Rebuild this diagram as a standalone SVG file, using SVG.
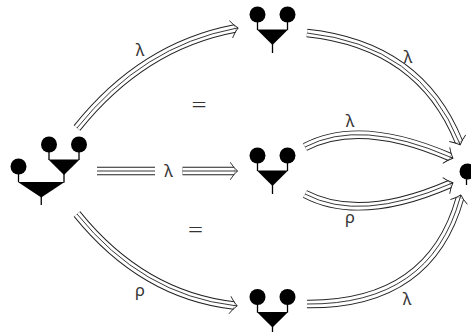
<svg xmlns="http://www.w3.org/2000/svg" width="471" height="332" viewBox="0 0 471 332">
<style>
.n circle{fill:#000}
.n line{stroke:#000;stroke-width:1.3}
.n polygon{fill:#000}
.o{fill:none;stroke:#222;stroke-width:8.5}
.w{fill:none;stroke:#fff;stroke-width:6.7}
.c{fill:none;stroke:#222;stroke-width:0.9}
.h{fill:none;stroke:#222;stroke-width:0.9}
.t{font-family:"Noto Sans","DejaVu Sans",sans-serif;font-size:16.5px;fill:#333;text-anchor:middle}
.eq{font-family:"Liberation Serif",serif;font-size:22px;fill:#333;text-anchor:middle}
</style>
<defs>
<marker id="ah" markerUnits="userSpaceOnUse" orient="auto" refX="0" refY="0" viewBox="-12 -12 24 24" markerWidth="24" markerHeight="24" overflow="visible">
<path class="h" d="M-4.1,-8.8 Q-0.6,-3.2 3.2,0 Q-0.6,3.2 -4.1,8.8 M0,0 L3.2,0"/>
</marker>
</defs>
<rect width="471" height="332" fill="#fff"/>
<g id="connectors">
<g id="e1"><path class="o" d="M77,128 Q142.5,46 235,28.5"/><path class="w" d="M77,128 Q142.5,46 235,28.5"/><path class="c" marker-end="url(#ah)" d="M77,128 Q142.5,46 235,28.5"/></g>
<g id="e2"><path class="o" d="M307,33 Q420,45 459,142"/><path class="w" d="M307,33 Q420,45 459,142"/><path class="c" marker-end="url(#ah)" d="M307,33 Q420,45 459,142"/></g>
<g id="e3a"><path class="o" d="M97,171 L155,171"/><path class="w" d="M97,171 L155,171"/><path class="c" d="M97,171 L155,171"/></g>
<g id="e3b"><path class="o" d="M182.5,171 L234.3,171"/><path class="w" d="M182.5,171 L234.3,171"/><path class="c" marker-end="url(#ah)" d="M182.5,171 L234.3,171"/></g>
<g id="e4"><path class="o" d="M305,147 Q360,118 450,157"/><path class="w" d="M305,147 Q360,118 450,157"/><path class="c" marker-end="url(#ah)" d="M305,147 Q360,118 450,157"/></g>
<g id="e5"><path class="o" d="M305,194 Q360,223 450,184"/><path class="w" d="M305,194 Q360,223 450,184"/><path class="c" marker-end="url(#ah)" d="M305,194 Q360,223 450,184"/></g>
<g id="e6"><path class="o" d="M77,214 Q142.5,295 234,305.5"/><path class="w" d="M77,214 Q142.5,295 234,305.5"/><path class="c" marker-end="url(#ah)" d="M77,214 Q142.5,295 234,305.5"/></g>
<g id="e7"><path class="o" d="M307,304 Q430,305 460,198"/><path class="w" d="M307,304 Q430,305 460,198"/><path class="c" marker-end="url(#ah)" d="M307,304 Q430,305 460,198"/></g>
</g>
<g id="labels">
<text class="t" x="140" y="55.5">λ</text>
<text class="t" x="408" y="63">λ</text>
<text class="t" x="168.5" y="177">λ</text>
<text class="t" x="350" y="126.5">λ</text>
<text class="t" x="350" y="222.5">ρ</text>
<text class="t" x="140" y="296">ρ</text>
<text class="t" x="407" y="304.5">λ</text>
<text class="eq" x="199" y="112" textLength="15" lengthAdjust="spacingAndGlyphs">=</text>
<text class="eq" x="195.5" y="237.2" textLength="15" lengthAdjust="spacingAndGlyphs">=</text>
</g>
<g id="nodeL" class="n">
<line x1="18.5" y1="166.5" x2="18.5" y2="182"/>
<line x1="49" y1="144.5" x2="49" y2="160"/>
<line x1="79" y1="144.5" x2="79" y2="160"/>
<line x1="64" y1="174" x2="64" y2="182.5"/>
<line x1="41.25" y1="197" x2="41.25" y2="205"/>
<polygon points="48.4,159.5 79.6,159.5 64,175"/>
<polygon points="17.9,182 64.6,182 41.25,197.5"/>
<circle cx="18.5" cy="166.5" r="8"/>
<circle cx="49" cy="144.5" r="8"/>
<circle cx="79" cy="144.5" r="8"/>
</g>
<g id="nodeT" class="n">
<line x1="257.5" y1="14.5" x2="257.5" y2="30"/>
<line x1="287.5" y1="14.5" x2="287.5" y2="30"/>
<line x1="272.5" y1="44" x2="272.5" y2="53"/>
<polygon points="256.9,29.5 288.1,29.5 272.5,45"/>
<circle cx="257.5" cy="14.5" r="8"/>
<circle cx="287.5" cy="14.5" r="8"/>
</g>
<g id="nodeM" class="n">
<line x1="257.5" y1="155.5" x2="257.5" y2="171"/>
<line x1="287.5" y1="155.5" x2="287.5" y2="171"/>
<line x1="272.5" y1="185" x2="272.5" y2="194"/>
<polygon points="256.9,170.5 288.1,170.5 272.5,186"/>
<circle cx="257.5" cy="155.5" r="8"/>
<circle cx="287.5" cy="155.5" r="8"/>
</g>
<g id="nodeB" class="n">
<line x1="257.5" y1="297" x2="257.5" y2="312.5"/>
<line x1="287.5" y1="297" x2="287.5" y2="312.5"/>
<line x1="272.5" y1="326" x2="272.5" y2="335"/>
<polygon points="256.9,312 288.1,312 272.5,327.5"/>
<circle cx="257.5" cy="297" r="8"/>
<circle cx="287.5" cy="297" r="8"/>
</g>
<g id="nodeR" class="n">
<line x1="466.5" y1="171" x2="466.5" y2="185"/>
<circle cx="467.5" cy="171.5" r="8"/>
</g>
</svg>
